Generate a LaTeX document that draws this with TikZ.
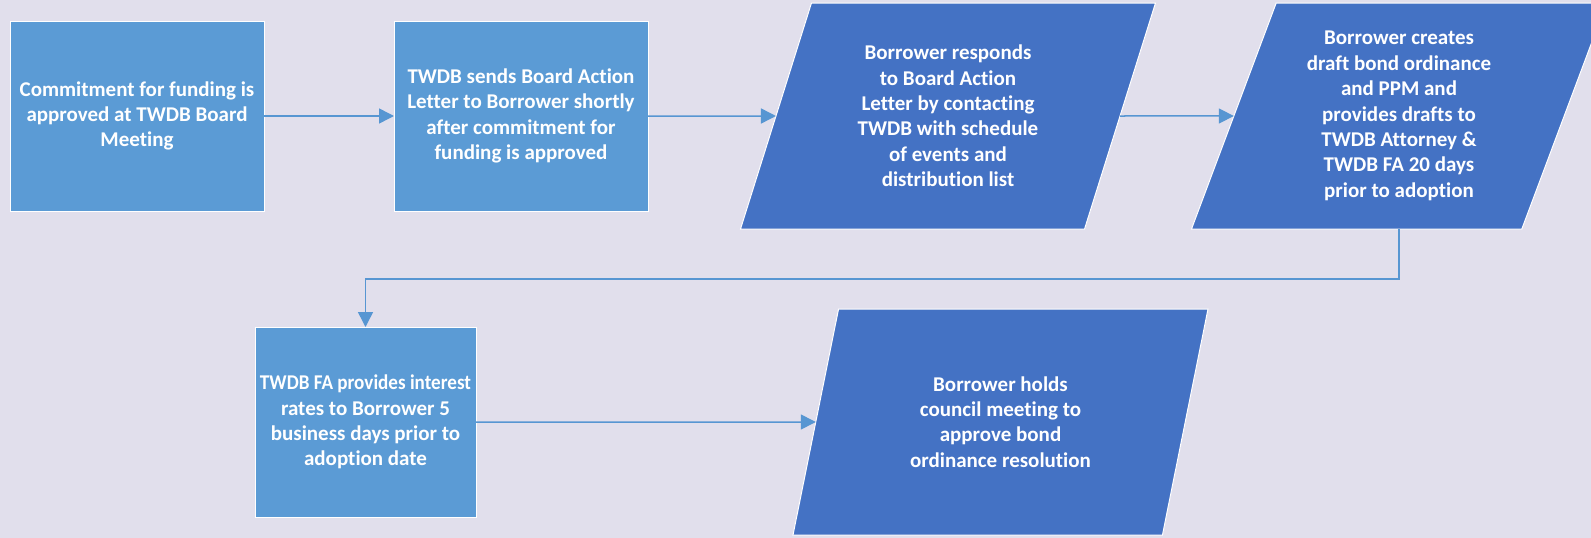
\documentclass[tikz,border=0pt]{standalone}
\usepackage{fontspec}
\usepackage{graphicx}
\setmainfont{Carlito}[RawFeature={-liga,-calt}]
\usetikzlibrary{shapes.geometric,arrows.meta}
\definecolor{bg}{RGB}{225,223,236}
\definecolor{boxblue}{RGB}{91,155,213}
\definecolor{parablue}{RGB}{68,114,196}
\definecolor{linkblue}{RGB}{87,150,210}
\begin{document}
\begin{tikzpicture}[x=1pt,y=-1pt,
  txt/.style={text=white,font=\bfseries\fontsize{21}{25.4}\selectfont,align=center,inner sep=0pt,outer sep=0pt,draw=white,line width=1pt},
  procbox/.style={txt,rectangle,fill=boxblue,minimum width=254pt,minimum height=190pt},
  iobox/.style={txt,trapezium,trapezium left angle=63.43,trapezium right angle=116.57,trapezium stretches body,fill=parablue,minimum width=415pt,minimum height=226pt},
  link/.style={draw=linkblue,line width=1.5pt,-{Triangle[length=15pt,width=15pt]}}]
\clip (0,0) rectangle (1591,538);
\fill[bg] (0,0) rectangle (1591,538);

\node[procbox] (b1) at (137,116) {Commitment for funding is\\approved at TWDB Board\\Meeting};
\node[procbox] (b2) at (521,116) {TWDB sends Board Action\\Letter to Borrower shortly\\after commitment for\\funding is approved};
\node[iobox] (p1) at (948,116) {Borrower responds\\to Board Action\\Letter by contacting\\TWDB with schedule\\of events and\\distribution list};
\node[iobox] (p2) at (1399,116) {Borrower creates\\draft bond ordinance\\and PPM and\\provides drafts to\\TWDB Attorney \&\\TWDB FA 20 days\\prior to adoption};
\node[procbox,minimum width=221pt] (b3) at (365.5,422) {\scalebox{0.91}[1]{TWDB FA provides interest}\\rates to Borrower 5\\business days prior to\\adoption date};
\node[iobox] (p3) at (1000.5,422) {Borrower holds\\council meeting to\\approve bond\\ordinance resolution};

\draw[link] (b1.east) -- (b2.west);
\draw[link] (b2.east) -- (p1.west);
\draw[link] (p1.east) -- (p2.west);
\draw[link] (p2.south) -- ++(0,50) -| (b3.north);
\draw[link] (b3.east) -- (p3.west);
\end{tikzpicture}
\end{document}
